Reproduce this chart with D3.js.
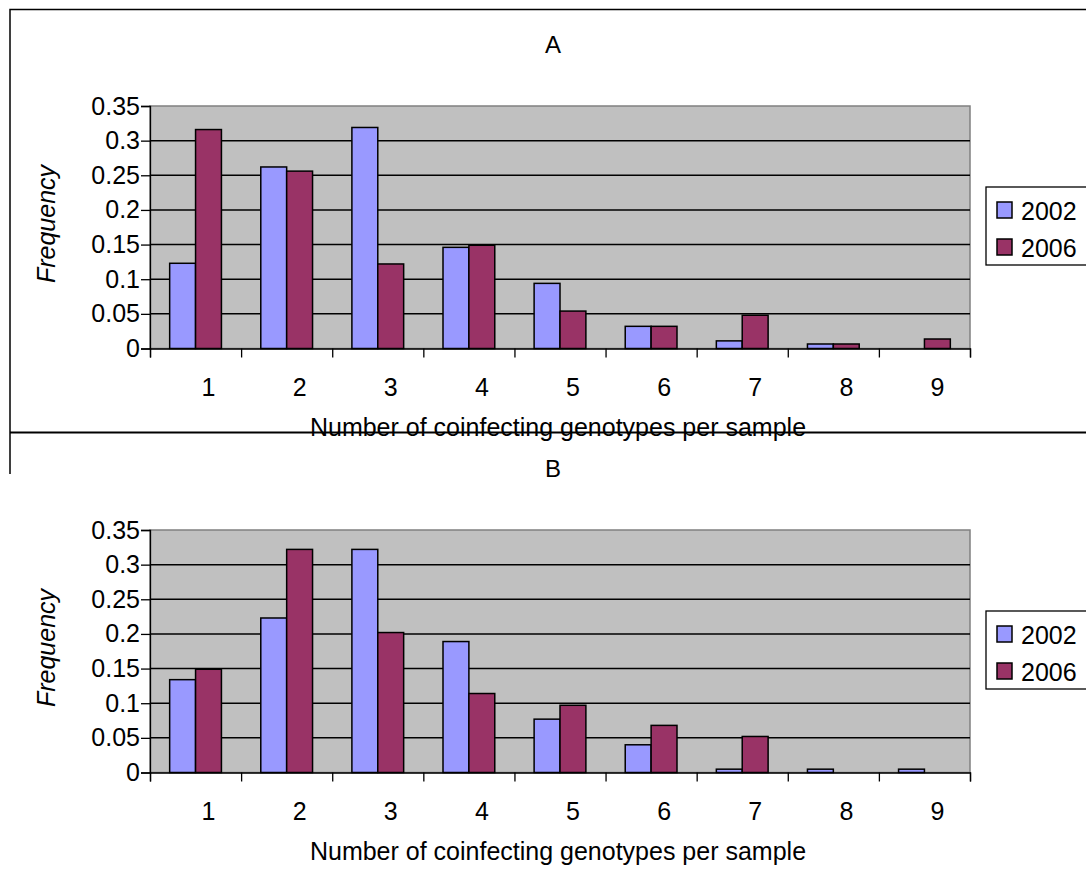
<!DOCTYPE html>
<html>
<head>
<meta charset="utf-8">
<script src="https://cdn.jsdelivr.net/npm/d3@7"></script>
<style>
  body { margin: 0; background: #fff; }
  text { font-family: "Liberation Sans", Arial, sans-serif; }
</style>
</head>
<body>
<div id="chart"></div>
<script>
// Data
var categories = ["1", "2", "3", "4", "5", "6", "7", "8", "9"];
var seriesNames = ["2002", "2006"];
var panelTitles = ["A", "B"];

var a2002 = [0.123, 0.262, 0.319, 0.146, 0.094, 0.032, 0.011, 0.0065, 0];
var a2006 = [0.316, 0.256, 0.122, 0.149, 0.054, 0.032, 0.048, 0.0065, 0.0137];

var b2002 = [0.134, 0.223, 0.322, 0.189, 0.077, 0.040, 0.0048, 0.0048, 0.0048];
var b2006 = [0.149, 0.322, 0.202, 0.114, 0.097, 0.068, 0.052, 0, 0];

var yTicks = [0, 0.05, 0.1, 0.15, 0.2, 0.25, 0.3, 0.35];
var yTickLabels = ["0", "0.05", "0.1", "0.15", "0.2", "0.25", "0.3", "0.35"];

var colors = {"2002": "#9999ff", "2006": "#993366"};

var W = 1086, H = 883;
var plot = {left: 150, right: 970, top: 106, height: 242.5};
var panelStep = 424;
var fontSize = 25;

var svg = d3.select("#chart").append("svg")
    .attr("width", W)
    .attr("height", H);

svg.append("rect").attr("width", W).attr("height", H).attr("fill", "#fff");

// Set ranges
var x = d3.scaleBand()
    .domain(categories)
    .range([plot.left, plot.right]);

var x1 = d3.scaleBand()
    .domain(seriesNames)
    .range([0, x.bandwidth()])
    .paddingOuter(0.76);

var xEdge = d3.scaleLinear()
    .domain([0, categories.length])
    .range([plot.left, plot.right]);

var y = d3.scaleLinear()
    .domain([0, 0.35])
    .range([plot.height, 0]);

function drawPanel(i, s2002, s2006) {
  var g = svg.append("g")
      .attr("transform", "translate(0," + (i * panelStep) + ")");
  var p = g.append("g").attr("transform", "translate(0," + plot.top + ")");

  var rows = categories.map(function(c, k) {
    return {cat: c, vals: [{s: "2002", v: s2002[k]}, {s: "2006", v: s2006[k]}]};
  });

  // plot area
  p.append("rect")
      .attr("x", plot.left)
      .attr("y", 0)
      .attr("width", plot.right - plot.left)
      .attr("height", plot.height)
      .attr("fill", "#c0c0c0")
      .attr("stroke", "#808080")
      .attr("stroke-width", 1.5);

  // gridlines
  p.selectAll(".grid")
      .data(yTicks.slice(1, -1))
    .enter().append("line")
      .attr("x1", plot.left)
      .attr("x2", plot.right)
      .attr("y1", function(d) { return y(d); })
      .attr("y2", function(d) { return y(d); })
      .attr("stroke", "#000")
      .attr("stroke-width", 1.5);

  // bars
  p.selectAll(".group")
      .data(rows)
    .enter().append("g")
      .attr("transform", function(d) { return "translate(" + x(d.cat) + ",0)"; })
    .selectAll("rect")
      .data(function(d) { return d.vals; })
    .enter().append("rect")
      .attr("x", function(d) { return x1(d.s); })
      .attr("width", x1.bandwidth())
      .attr("y", function(d) { return y(d.v); })
      .attr("height", function(d) { return plot.height - y(d.v); })
      .attr("fill", function(d) { return colors[d.s]; })
      .attr("stroke", "#000")
      .attr("stroke-width", 1.5)
      .style("display", function(d) { return d.v > 0 ? null : "none"; });

  // y axis
  var ya = p.append("g")
      .attr("transform", "translate(" + plot.left + ",0)")
      .call(d3.axisLeft(y)
        .tickValues(yTicks)
        .tickFormat(function(d, k) { return yTickLabels[k]; })
        .tickSize(9)
        .tickPadding(1));
  ya.select(".domain").attr("stroke", "#000").attr("stroke-width", 1.3);
  ya.selectAll("line").attr("stroke-width", 1.3);
  ya.selectAll("text").attr("font-size", fontSize).attr("fill", "#000")
      .attr("font-family", "Liberation Sans, Arial, sans-serif");

  // x axis: boundary ticks
  var xa = p.append("g")
      .attr("transform", "translate(0," + plot.height + ")")
      .call(d3.axisBottom(xEdge)
        .tickValues(d3.range(categories.length + 1))
        .tickSize(9)
        .tickFormat(""));
  xa.select(".domain").attr("stroke", "#000").attr("stroke-width", 1.3);
  xa.selectAll("line").attr("stroke-width", 1.3);

  // x axis: category labels
  var xl = p.append("g")
      .attr("transform", "translate(13," + plot.height + ")")
      .call(d3.axisBottom(x).tickSize(0).tickPadding(30));
  xl.select(".domain").remove();
  xl.selectAll("text").attr("font-size", fontSize).attr("fill", "#000")
      .attr("font-family", "Liberation Sans, Arial, sans-serif");

  // panel title
  g.append("text")
      .attr("x", 553)
      .attr("y", 53)
      .attr("text-anchor", "middle")
      .attr("font-size", 24)
      .text(panelTitles[i]);

  // axis titles
  g.append("text")
      .attr("x", 558)
      .attr("y", 436)
      .attr("text-anchor", "middle")
      .attr("font-size", fontSize)
      .text("Number of coinfecting genotypes per sample");

  g.append("text")
      .attr("transform", "translate(55,224) rotate(-90)")
      .attr("text-anchor", "middle")
      .attr("font-size", fontSize)
      .attr("font-style", "italic")
      .text("Frequency");

  // legend
  var lg = g.append("g").attr("transform", "translate(986,187)");
  lg.append("rect")
      .attr("width", 130)
      .attr("height", 78)
      .attr("fill", "#fff")
      .attr("stroke", "#000")
      .attr("stroke-width", 1.3);
  seriesNames.forEach(function(s, k) {
    lg.append("rect")
        .attr("x", 11)
        .attr("y", 15 + k * 37)
        .attr("width", 15)
        .attr("height", 16)
        .attr("fill", colors[s])
        .attr("stroke", "#000")
        .attr("stroke-width", 1.5);
    lg.append("text")
        .attr("x", 35)
        .attr("y", 33 + k * 37)
        .attr("font-size", fontSize)
        .text(s);
  });
}

drawPanel(0, a2002, a2006);
drawPanel(1, b2002, b2006);

// outer frame of panel A, plus the stub of panel B's frame
svg.append("path")
    .attr("d", "M1090,9.5 H10 V474")
    .attr("fill", "none")
    .attr("stroke", "#000")
    .attr("stroke-width", 1.5);
svg.append("line")
    .attr("x1", 10).attr("x2", 1090)
    .attr("y1", 432.5).attr("y2", 432.5)
    .attr("stroke", "#000")
    .attr("stroke-width", 2);
</script>
</body>
</html>
